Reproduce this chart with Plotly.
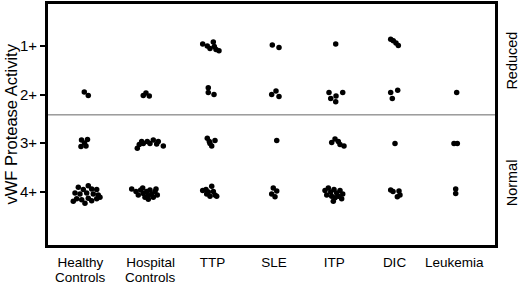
import plotly.graph_objects as go

categories = ["Healthy", "Hospital", "TTP", "SLE", "ITP", "DIC", "Leukemia"]
category_second_line = ["Controls", "Controls", "", "", "", "", ""]
level_labels = ["1+", "2+", "3+", "4+"]
level_values = [1, 2, 3, 4]
boundary_level = 2.42

# Each point: activity score (with the vertical scatter seen in the figure) and horizontal jitter
healthy_act = [1.95, 2.02,
               2.94, 2.93, 3.00, 3.07, 3.06,
               3.91, 3.96, 3.88, 3.95, 3.96, 4.03, 4.05, 4.03, 4.05, 4.07, 4.15, 4.17, 4.14, 4.19, 4.15, 4.24, 4.20, 4.12]
healthy_dx = [-0.044, 0.021,
              -0.089, 0.008, -0.041, -0.098, -0.016,
              -0.141, -0.060, 0.021, 0.076, 0.158, -0.195, -0.114, -0.005, 0.102, 0.183, -0.168, -0.086, 0.021, 0.076, 0.158, -0.033, -0.223, 0.211]

hospital_act = [2.02, 1.97, 2.03,
                3.11, 3.03, 2.97, 3.01, 2.97, 3.01, 2.94, 3.02, 2.97, 3.06,
                3.95, 4.00, 4.07, 3.97, 4.04, 4.12, 4.00, 4.09, 3.97, 4.05, 4.12, 4.00, 4.07, 4.16, 3.93, 3.95]
hospital_dx = [-0.085, -0.041, 0.013,
               -0.182, -0.150, -0.111, -0.085, -0.020, 0.024, 0.078, 0.133, 0.159, 0.241,
               -0.273, -0.203, -0.166, -0.127, -0.085, -0.057, -0.029, -0.003, 0.024, 0.052, 0.078, 0.106, 0.143, -0.003, -0.094, 0.122]

ttp_act = [0.96, 1.00, 1.05, 0.92, 1.01, 1.07, 1.10,
           1.86, 1.96, 2.00,
           2.90, 2.97, 3.06, 2.95, 3.01,
           3.98, 3.96, 4.01, 3.89, 4.00, 4.07, 4.10, 4.10, 4.05]
ttp_dx = [-0.119, -0.044, 0.000, 0.054, 0.070, 0.098, 0.146,
          -0.028, -0.028, 0.065,
          -0.044, -0.011, 0.028, 0.081, 0.000,
          -0.119, -0.065, -0.028, 0.028, 0.054, 0.081, 0.109, 0.000, -0.054]

sle_act = [0.98, 1.03,
           2.00, 1.93, 2.04,
           2.95,
           3.93, 3.99, 4.05, 4.11]
sle_dx = [0.013, 0.122,
          0.003, 0.073, 0.122,
          0.085,
          0.029, 0.085, 0.003, 0.057]

itp_act = [0.96,
           1.96, 2.08, 2.03, 1.96, 2.15,
           2.99, 2.92, 2.97, 3.03, 3.06,
           3.98, 3.93, 4.01, 3.96, 4.03, 3.98, 4.05, 4.07, 4.10, 4.13, 4.10, 4.15, 4.20]
itp_dx = [0.044,
          -0.065, -0.037, 0.049, 0.158, 0.044,
          -0.021, 0.033, 0.086, 0.114, 0.179,
          -0.130, -0.076, -0.037, 0.016, 0.060, 0.114, 0.158, -0.102, -0.021, 0.033, 0.086, 0.141, 0.005]

dic_act = [0.86, 0.89, 0.94, 0.99,
           1.96, 1.91, 2.08,
           3.01,
           3.97, 4.00, 3.99, 4.07, 4.11]
dic_dx = [-0.062, -0.020, 0.024, 0.062,
          -0.062, 0.052, -0.036,
          0.008,
          -0.062, -0.024, 0.073, 0.089, 0.046]

leukemia_act = [1.96,
                3.01, 3.01,
                3.95, 4.04]
leukemia_dx = [0.011,
               -0.033, 0.021,
               -0.005, -0.005]

groups_act = [healthy_act, hospital_act, ttp_act, sle_act, itp_act, dic_act, leukemia_act]
groups_dx = [healthy_dx, hospital_dx, ttp_dx, sle_dx, itp_dx, dic_dx, leukemia_dx]

# label placement (styling): small horizontal nudges of category labels
label_nudge = [-0.106, 0.033, 0.04, 0.04, 0.02, 0.0, -0.03]
label_pos = [i + n for i, n in enumerate(label_nudge)]

FONT = "Liberation Sans, Arial, sans-serif"

fig = go.Figure()
for i, (acts, dxs) in enumerate(zip(groups_act, groups_dx)):
    fig.add_trace(go.Scatter(
        x=[i + d for d in dxs], y=acts, mode="markers",
        marker=dict(color="black", size=5.5, line=dict(width=0)),
        showlegend=False, hoverinfo="skip"))

fig.add_shape(type="line", xref="paper", yref="y", x0=0, x1=1,
              y0=boundary_level, y1=boundary_level,
              line=dict(color="#666666", width=1))

annotations = [
    dict(text="vWF Protease Activity", xref="paper", yref="paper",
         x=-0.085, y=0.5, xanchor="center", yanchor="middle",
         textangle=-90, showarrow=False, font=dict(size=16.5, family=FONT)),
    dict(text="Reduced", xref="paper", yref="paper",
         x=1.038, y=0.765, xanchor="center", yanchor="middle",
         textangle=-90, showarrow=False, font=dict(size=14.5, family=FONT)),
    dict(text="Normal", xref="paper", yref="paper",
         x=1.038, y=0.26, xanchor="center", yanchor="middle",
         textangle=-90, showarrow=False, font=dict(size=14.5, family=FONT)),
]
for pos, second in zip(label_pos, category_second_line):
    if second:
        annotations.append(dict(text=second, xref="x", yref="paper", x=pos, y=-0.133,
                                xanchor="center", yanchor="middle", showarrow=False,
                                font=dict(size=13.5, family=FONT)))

fig.update_layout(
    width=520, height=285,
    margin=dict(l=48, r=25, t=4, b=40),
    paper_bgcolor="white", plot_bgcolor="white",
    font=dict(family=FONT, color="black"),
    xaxis=dict(range=[-0.634, 6.634], showgrid=False, zeroline=False,
               tickmode="array", tickvals=label_pos,
               ticktext=categories, tickfont=dict(size=13.5, family=FONT),
               ticks="outside", ticklen=3, tickcolor="rgba(0,0,0,0)", automargin=False,
               showline=True, linecolor="black", linewidth=3, mirror=True),
    yaxis=dict(range=[5.103, 0.134], showgrid=False, zeroline=False,
               tickmode="array", tickvals=level_values, ticktext=level_labels,
               tickfont=dict(size=15, family=FONT), automargin=False,
               ticks="outside", ticklen=5, tickwidth=2, tickcolor="black",
               showline=True, linecolor="black", linewidth=3, mirror=True),
    annotations=annotations,
)

fig.write_html("out.html", config={"displayModeBar": False},
               post_script="document.body.style.margin='0px';")
